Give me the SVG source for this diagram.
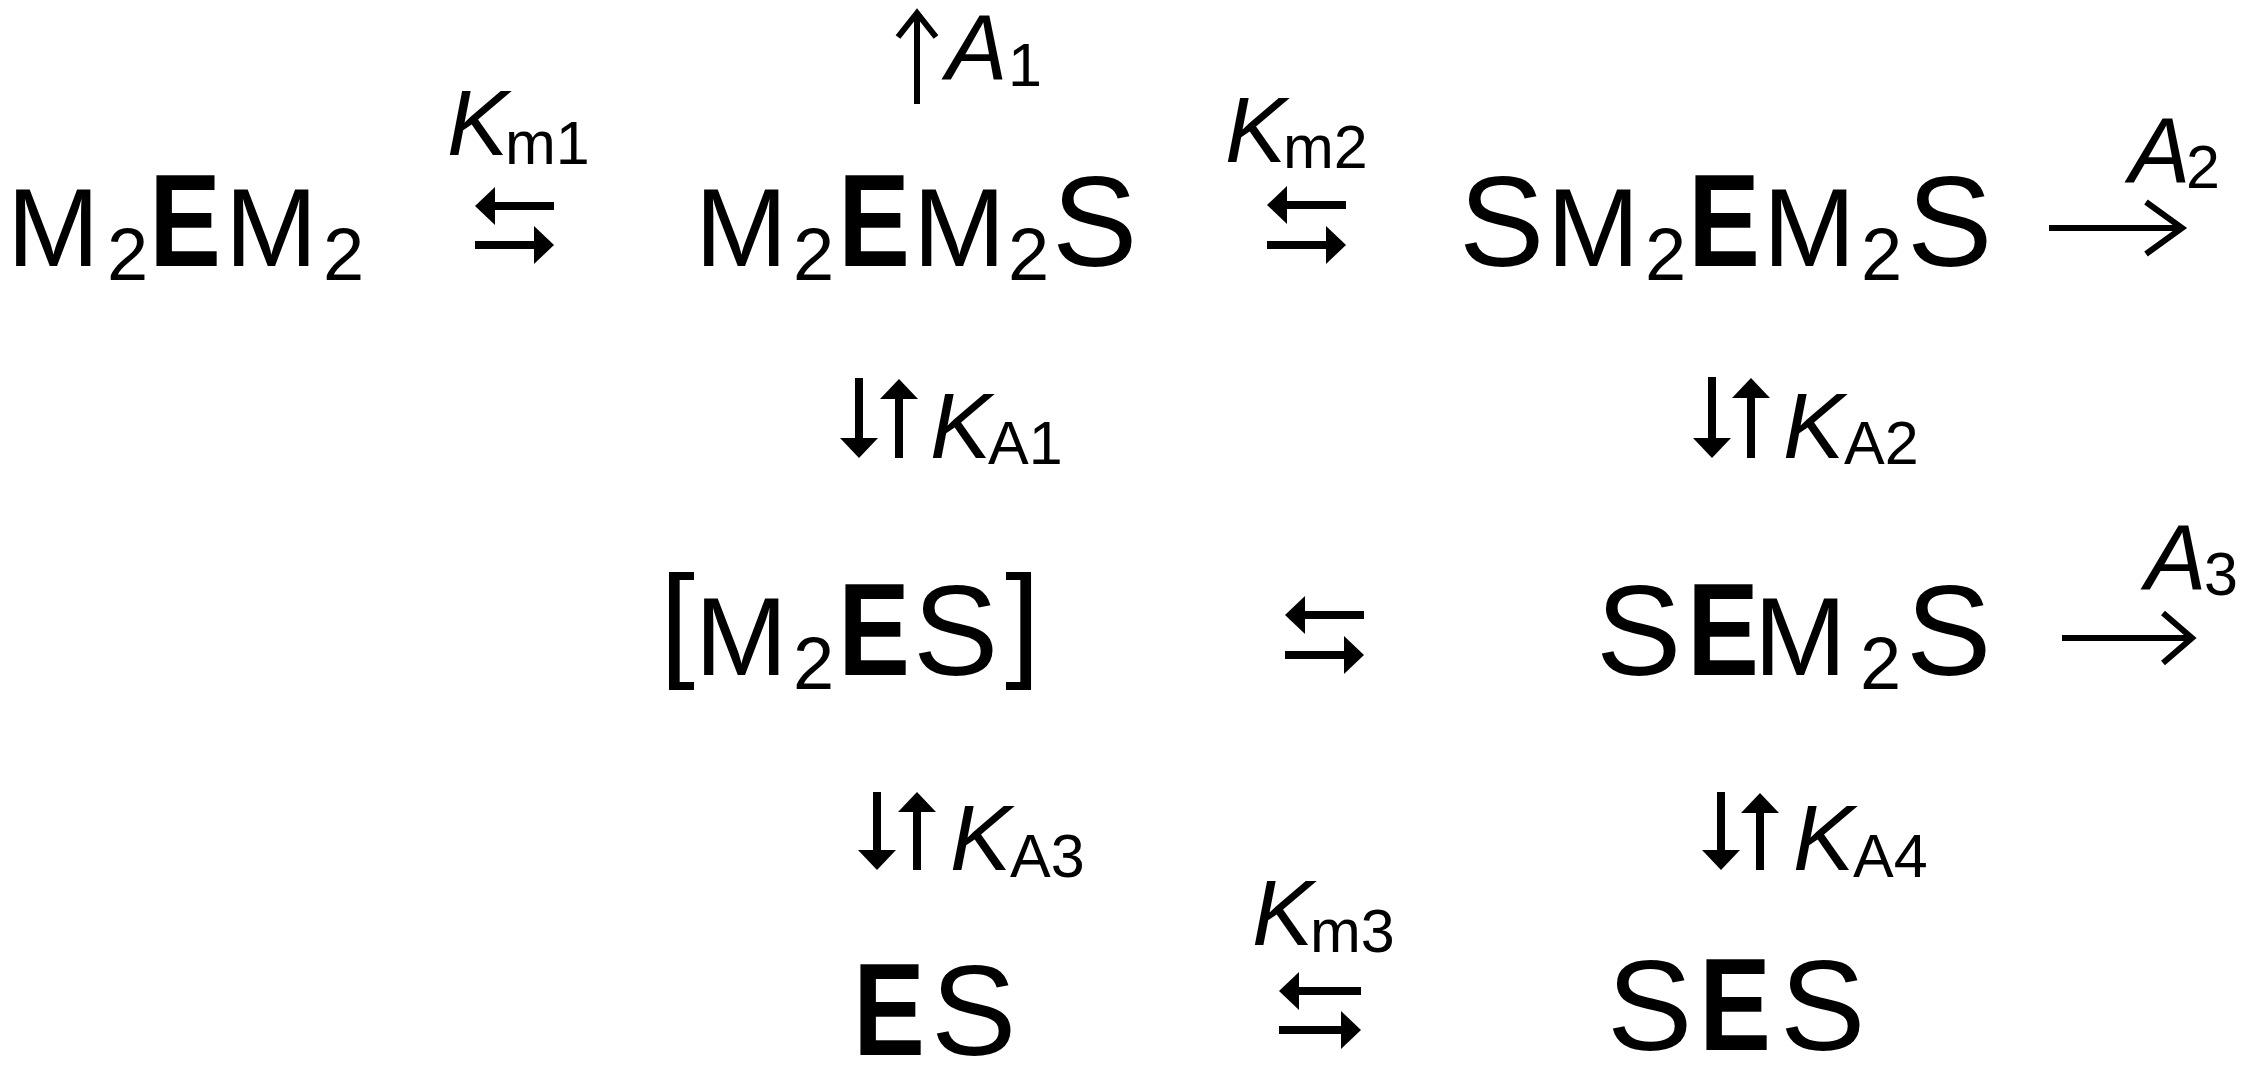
<svg xmlns="http://www.w3.org/2000/svg" width="2249" height="1067" viewBox="0 0 2249 1067">
<style>
text{font-family:"Liberation Sans",Arial,sans-serif;fill:#000}
.m{font-size:111px}
.s{font-size:128px}
.d{font-size:74px}
.b{font-size:126px}
.e{font-size:131px;font-weight:bold}
.k{font-size:92px;font-style:italic}
.ks{font-size:61px}
.sh{stroke:#000;stroke-width:8;fill:none;marker-end:url(#head)}
.th{stroke:#000;stroke-width:6;fill:none}
.ch{stroke:#000;stroke-width:6;fill:none;stroke-linejoin:miter}
</style>
<defs>
<marker id="head" markerUnits="userSpaceOnUse" markerWidth="22" markerHeight="40" viewBox="0 -20 22 40" refX="2" refY="0" orient="auto"><path d="M0,-19 L20,0 L0,19 Z" fill="#000"/></marker>
</defs>
<rect width="2249" height="1067" fill="#fff"/>
<g id="n1">
<text><tspan class="m" x="7" y="266">M</tspan><tspan class="d" x="107" y="280">2</tspan></text>
<text class="e" transform="translate(149.2,266) scale(0.82,1)">E</text>
<text><tspan class="m" x="225" y="266">M</tspan><tspan class="d" x="323" y="280">2</tspan></text>
</g>
<g id="n2">
<text><tspan class="m" x="695" y="266">M</tspan><tspan class="d" x="793" y="280">2</tspan></text>
<text class="e" transform="translate(838.2,266) scale(0.82,1)">E</text>
<text><tspan class="m" x="913" y="266">M</tspan><tspan class="d" x="1008" y="280">2</tspan><tspan class="s" x="1052" y="266">S</tspan></text>
</g>
<g id="n3">
<text><tspan class="s" x="1459" y="266">S</tspan><tspan class="m" x="1547" y="266">M</tspan><tspan class="d" x="1645" y="280">2</tspan></text>
<text class="e" transform="translate(1688.2,266) scale(0.82,1)">E</text>
<text><tspan class="m" x="1763" y="266">M</tspan><tspan class="d" x="1861" y="280">2</tspan><tspan class="s" x="1907" y="266">S</tspan></text>
</g>
<g id="n4">
<text><tspan class="b" x="660" y="664">[</tspan><tspan class="m" x="695" y="675">M</tspan><tspan class="d" x="793" y="689">2</tspan></text>
<text class="e" transform="translate(838.2,675) scale(0.82,1)">E</text>
<text><tspan class="s" x="913" y="675">S</tspan><tspan class="b" x="1005" y="664">]</tspan></text>
</g>
<g id="n5">
<text><tspan class="s" x="1596" y="675">S</tspan></text>
<text class="e" transform="translate(1687.2,675) scale(0.82,1)">E</text>
<text><tspan class="m" x="1754" y="675">M</tspan><tspan class="d" x="1860" y="689">2</tspan><tspan class="s" x="1906" y="675">S</tspan></text>
</g>
<g id="n6">
<text class="e" transform="translate(853.2,1055) scale(0.82,1)">E</text>
<text><tspan class="s" x="931" y="1055">S</tspan></text>
</g>
<g id="n7">
<text><tspan class="s" x="1607" y="1050">S</tspan></text>
<text class="e" transform="translate(1699.2,1050) scale(0.82,1)">E</text>
<text><tspan class="s" x="1780" y="1050">S</tspan></text>
</g>
<g id="connectors">
<g id="c-km1">
<line class="sh" x1="554" y1="206" x2="493" y2="206"/>
<line class="sh" x1="475" y1="245" x2="536" y2="245"/>
<text><tspan class="k" x="447" y="155">K</tspan><tspan class="ks" x="505" y="164">m1</tspan></text>
</g>
<g id="c-a1">
<line class="th" x1="917" y1="104" x2="917" y2="14"/>
<polyline class="ch" points="898,37 917,13 936,37"/>
<text><tspan class="k" x="946" y="80">A</tspan><tspan class="ks" x="1008" y="86">1</tspan></text>
</g>
<g id="c-km2">
<line class="sh" x1="1346" y1="205" x2="1285" y2="205"/>
<line class="sh" x1="1267" y1="245" x2="1328" y2="245"/>
<text><tspan class="k" x="1225" y="162">K</tspan><tspan class="ks" x="1283" y="168">m2</tspan></text>
</g>
<g id="c-a2">
<line class="th" x1="2049" y1="228" x2="2182" y2="228"/>
<polyline class="ch" points="2146,202 2182,228 2146,254"/>
<text><tspan class="k" x="2129" y="183">A</tspan><tspan class="ks" x="2186" y="188">2</tspan></text>
</g>
<g id="c-ka1">
<line class="sh" x1="859" y1="378" x2="859" y2="440"/>
<line class="sh" x1="899" y1="458" x2="899" y2="397"/>
<text><tspan class="k" x="930" y="458">K</tspan><tspan class="ks" x="988" y="464">A1</tspan></text>
</g>
<g id="c-ka2">
<line class="sh" x1="1712" y1="377" x2="1712" y2="440"/>
<line class="sh" x1="1751" y1="458" x2="1751" y2="396"/>
<text><tspan class="k" x="1783" y="458">K</tspan><tspan class="ks" x="1844" y="464">A2</tspan></text>
</g>
<g id="c-eq2">
<line class="sh" x1="1364" y1="615" x2="1303" y2="615"/>
<line class="sh" x1="1285" y1="655" x2="1346" y2="655"/>
</g>
<g id="c-a3">
<line class="th" x1="2062" y1="638" x2="2192" y2="638"/>
<polyline class="ch" points="2163,613 2192,638 2163,663"/>
<text><tspan class="k" x="2145" y="590">A</tspan><tspan class="ks" x="2204" y="595">3</tspan></text>
</g>
<g id="c-ka3">
<line class="sh" x1="877" y1="792" x2="877" y2="852"/>
<line class="sh" x1="917" y1="870" x2="917" y2="810"/>
<text><tspan class="k" x="950" y="870">K</tspan><tspan class="ks" x="1010" y="877">A3</tspan></text>
</g>
<g id="c-ka4">
<line class="sh" x1="1721" y1="792" x2="1721" y2="852"/>
<line class="sh" x1="1760" y1="870" x2="1760" y2="811"/>
<text><tspan class="k" x="1793" y="870">K</tspan><tspan class="ks" x="1853" y="877">A4</tspan></text>
</g>
<g id="c-km3">
<line class="sh" x1="1361" y1="991" x2="1297" y2="991"/>
<line class="sh" x1="1279" y1="1030" x2="1343" y2="1030"/>
<text><tspan class="k" x="1252" y="945">K</tspan><tspan class="ks" x="1310" y="952">m3</tspan></text>
</g>
</g>
</svg>
